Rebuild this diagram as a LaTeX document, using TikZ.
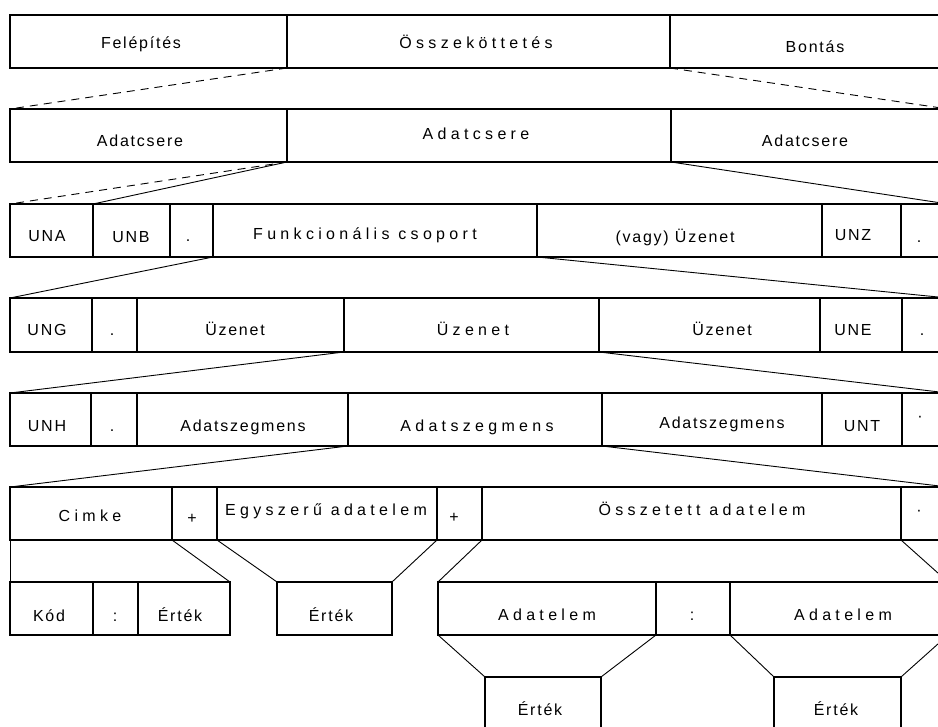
\documentclass[tikz,border=0pt]{standalone}
\usepackage{fontspec}
\setmainfont{Liberation Sans}
\newfontfamily\plainfont[LetterSpace=11]{Liberation Sans}
\newfontfamily\widefont[LetterSpace=27]{Liberation Sans}

\tikzset{
  cell/.style={draw, rectangle, line width=1.6pt, inner sep=0pt, outer sep=0pt},
  lbl/.style={inner sep=0pt, anchor=base, font=\plainfont\fontsize{16}{19}\selectfont},
  wlbl/.style={lbl, font=\widefont\fontsize{16}{19}\selectfont},
  link/.style={line width=0.9pt},
  dlink/.style={link, dash pattern=on 8pt off 6pt},
}

% one box of a row: name, left x, right x, top y, bottom y
\newcommand\mkcell[5]{%
  \node[cell, anchor=north west,
        minimum width={(#3-#2)*1pt}, minimum height={(#5-#4)*1pt}] (#1) at (#2,#4) {};}

\begin{document}
\begin{tikzpicture}[x=1pt, y=-1pt]
\useasboundingbox (0,0) rectangle (938,727);
\clip (0,0) rectangle (938,727);

% level 1: connection phases
\mkcell{r1a}{10}{287}{15}{68}
\mkcell{r1b}{287}{670}{15}{68}
\mkcell{r1c}{670}{948}{15}{68}
\node[lbl]  (t1a) at (141,49) {Felépítés};
\node[wlbl] (t1b) at (476,49) {Összeköttetés};
\node[lbl]  (t1c) at (815,53) {Bontás};

% level 2: interchanges
\mkcell{r2a}{10}{287}{109}{162}
\mkcell{r2b}{287}{671}{109}{162}
\mkcell{r2c}{671}{948}{109}{162}
\node[lbl]  (t2a) at (140,147) {Adatcsere};
\node[wlbl] (t2b) at (476,140) {Adatcsere};
\node[lbl]  (t2c) at (805,147) {Adatcsere};

% level 3: interchange envelope
\mkcell{r3a}{10}{93}{204}{257}
\mkcell{r3b}{93}{170}{204}{257}
\mkcell{r3c}{170}{213}{204}{257}
\mkcell{r3d}{213}{537}{204}{257}
\mkcell{r3e}{537}{822}{204}{257}
\mkcell{r3f}{822}{901}{204}{257}
\mkcell{r3g}{901}{948}{204}{257}
\node[lbl]  (t3a) at (47,242) {UNA};
\node[lbl]  (t3b) at (131,243) {UNB};
\node[lbl]  (t3c) at (188,242) {.};
\node[wlbl] (t3d) at (365,240) {Funkcionális csoport};
\node[lbl]  (t3e) at (675,243) {(vagy) Üzenet};
\node[lbl]  (t3f) at (853,241) {UNZ};
\node[lbl]  (t3g) at (919,243) {.};

% level 4: functional group
\mkcell{r4a}{10}{92}{298}{352}
\mkcell{r4b}{92}{137}{298}{352}
\mkcell{r4c}{137}{344}{298}{352}
\mkcell{r4d}{344}{599}{298}{352}
\mkcell{r4e}{599}{820}{298}{352}
\mkcell{r4f}{820}{902}{298}{352}
\mkcell{r4g}{902}{948}{298}{352}
\node[lbl]  (t4a) at (47,336) {UNG};
\node[lbl]  (t4b) at (112,336) {.};
\node[lbl]  (t4c) at (235,336) {Üzenet};
\node[wlbl] (t4d) at (473,336) {Üzenet};
\node[lbl]  (t4e) at (722,336) {Üzenet};
\node[lbl]  (t4f) at (853,336) {UNE};
\node[lbl]  (t4g) at (922,336) {.};

% level 5: message
\mkcell{r5a}{10}{91}{393}{446}
\mkcell{r5b}{91}{137}{393}{446}
\mkcell{r5c}{137}{348}{393}{446}
\mkcell{r5d}{348}{602}{393}{446}
\mkcell{r5e}{602}{822}{393}{446}
\mkcell{r5f}{822}{902}{393}{446}
\mkcell{r5g}{902}{948}{393}{446}
\node[lbl]  (t5a) at (47,432) {UNH};
\node[lbl]  (t5b) at (112,432) {.};
\node[lbl]  (t5c) at (243,432) {Adatszegmens};
\node[wlbl] (t5d) at (477,432) {Adatszegmens};
\node[lbl]  (t5e) at (722,429) {Adatszegmens};
\node[lbl]  (t5f) at (862,432) {UNT};
\node[lbl, anchor=center] (t5g) at (920,419) {·};

% level 6: segment
\mkcell{r6a}{10}{172}{487}{540}
\mkcell{r6b}{172}{217}{487}{540}
\mkcell{r6c}{217}{437}{487}{540}
\mkcell{r6d}{437}{482}{487}{540}
\mkcell{r6e}{482}{901}{487}{540}
\mkcell{r6f}{901}{948}{487}{540}
\node[wlbl] (t6a) at (90,521) {Cimke};
\node[lbl]  (t6b) at (192,523) {+};
\node[wlbl] (t6c) at (326,515) {Egyszerű adatelem};
\node[lbl]  (t6d) at (454,522) {+};
\node[wlbl] (t6e) at (702,515) {Összetett adatelem};
\node[lbl, anchor=center] (t6f) at (919,513) {·};

% level 7: tag and data elements
\mkcell{r7a}{10}{93}{582}{635}
\mkcell{r7b}{93}{138}{582}{635}
\mkcell{r7c}{138}{230}{582}{635}
\mkcell{r7d}{277}{392}{582}{635}
\mkcell{r7e}{438}{656}{582}{635}
\mkcell{r7f}{656}{730}{582}{635}
\mkcell{r7g}{730}{948}{582}{635}
\node[lbl]  (t7a) at (49,621) {Kód};
\node[lbl]  (t7b) at (115,621) {:};
\node[lbl]  (t7c) at (180,621) {Érték};
\node[lbl]  (t7d) at (331,621) {Érték};
\node[wlbl] (t7e) at (547,620) {Adatelem};
\node[lbl]  (t7f) at (692,620) {:};
\node[wlbl] (t7g) at (843,620) {Adatelem};

% level 8: component values
\mkcell{r8a}{485}{601}{677}{740}
\mkcell{r8b}{774}{901}{677}{740}
\node[lbl]  (t8a) at (540,715) {Érték};
\node[lbl]  (t8b) at (836,715) {Érték};

% expansion lines between levels
\draw[dlink] (r1a.south east) -- (r2a.north west);
\draw[dlink] (r1c.south west) -- (r2c.north east);

\draw[dlink] (r2a.south east) -- (r3a.north west);
\draw[link]  (r2a.south east) -- (r3b.north west);
\draw[link]  (r2c.south west) -- (r3g.north east);

\draw[link] (r3d.south west) -- (r4a.north west);
\draw[link] (r3e.south west) -- (r4g.north east);

\draw[link] (r4d.south west) -- (r5a.north west);
\draw[link] (r4e.south west) -- (r5g.north east);

\draw[link] (r5d.south west) -- (r6a.north west);
\draw[link] (r5e.south west) -- (r6f.north east);

\draw[link] (r6a.south west) -- (r7a.north west);
\draw[link] (r6b.south west) -- (r7c.north east);
\draw[link] (r6c.south west) -- (r7d.north west);
\draw[link] (r6c.south east) -- (r7d.north east);
\draw[link] (r6e.south west) -- (r7e.north west);
\draw[link] (r6f.south west) -- (r7g.north east);

\draw[link] (r7e.south west) -- (r8a.north west);
\draw[link] (r7e.south east) -- (r8a.north east);
\draw[link] (r7g.south west) -- (r8b.north west);
\draw[link] (r7g.south east) -- (r8b.north east);
\end{tikzpicture}
\end{document}
